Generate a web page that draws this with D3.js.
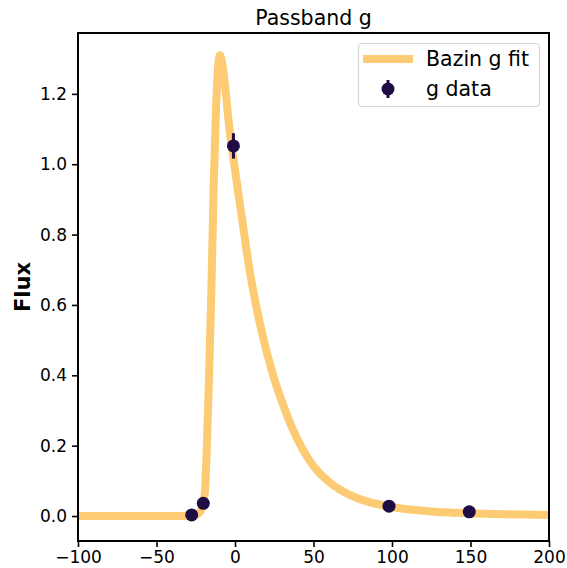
<!DOCTYPE html>
<html>
<head>
<meta charset="utf-8">
<script src="https://cdn.jsdelivr.net/npm/d3@7"></script>
<style>
	body { margin: 0; background: #fff; }
	text { font-family: "DejaVu Sans", sans-serif; }
</style>
</head>
<body>
<script>
// fit curve
var fitTime = [-100, -60, -30, -24, -21.5, -20, -19, -18, -16.5, -15, -13.5, -12, -11, -9.6, -8.5, -7.4, -6, -4.5, -3, -1.5, 0, 2, 4.5, 7.2, 10, 12.5, 16, 20, 25, 29.5, 36, 43, 50, 59, 66, 74, 85, 98, 110, 125, 149, 175, 200]
var fitFlux = [0, 0, 0, 0.005, 0.018, 0.04, 0.08, 0.19, 0.4, 0.65, 0.95, 1.17, 1.26, 1.31, 1.295, 1.265, 1.21, 1.14, 1.08, 1.03, 0.985, 0.92, 0.845, 0.76, 0.68, 0.62, 0.545, 0.47, 0.39, 0.33, 0.255, 0.19, 0.142, 0.1, 0.077, 0.058, 0.04, 0.027, 0.019, 0.013, 0.008, 0.005, 0.003]

// observations
var obsTime = [-27.6, -20.2, -1.0, 98.1, 149.2]
var obsFlux = [0.003, 0.036, 1.052, 0.028, 0.012]
var obsErr = [0.003, 0.004, 0.036, 0.004, 0.003]

var xTicks = [-100, -50, 0, 50, 100, 150, 200]
var yTicks = [0, 0.2, 0.4, 0.6, 0.8, 1.0, 1.2]

var fitColor = "#fccb74"
var dotColor = "#1e0c45"

function main() {
	var w = 567
	var h = 568
	var left = 78, right = 549, top = 33, bottom = 541

	var xScale = d3.scaleLinear().domain([-100, 200]).range([left, right])
	var yScale = d3.scaleLinear().domain([-0.071, 1.373]).range([bottom, top])

	var svg = d3.select("body").append("svg")
		.attr("width", w)
		.attr("height", h)

	// fit line
	var fit = fitTime.map((t, i) => [t, fitFlux[i]])
	var line = d3.line()
		.x((d) => xScale(d[0]))
		.y((d) => yScale(d[1]))
		.curve(d3.curveMonotoneX)

	svg.append("path")
		.datum(fit)
		.attr("d", line)
		.attr("fill", "none")
		.attr("stroke", fitColor)
		.attr("stroke-width", 8)
		.attr("stroke-linejoin", "round")

	// error bars + dots
	var obs = obsTime.map((t, i) => ({ t: t, f: obsFlux[i], e: obsErr[i] }))
	svg.append("g").selectAll("line")
		.data(obs)
		.enter().append("line")
		.attr("x1", (d) => xScale(d.t))
		.attr("x2", (d) => xScale(d.t))
		.attr("y1", (d) => yScale(d.f - d.e))
		.attr("y2", (d) => yScale(d.f + d.e))
		.attr("stroke", dotColor)
		.attr("stroke-width", 3)

	svg.append("g").selectAll("circle")
		.data(obs)
		.enter().append("circle")
		.attr("cx", (d) => xScale(d.t))
		.attr("cy", (d) => yScale(d.f))
		.attr("r", 6.5)
		.attr("fill", dotColor)

	// axes
	var xAxis = d3.axisBottom(xScale).tickValues(xTicks).tickSize(6).tickPadding(4).tickFormat(d3.format("d"))
	var yAxis = d3.axisLeft(yScale).tickValues(yTicks).tickSize(6).tickPadding(5).tickFormat(d3.format(".1f"))

	var gx = svg.append("g")
		.attr("transform", "translate(0," + bottom + ")")
		.call(xAxis)
	var gy = svg.append("g")
		.attr("transform", "translate(" + left + ",0)")
		.call(yAxis)

	;[gx, gy].forEach((g) => {
		g.select(".domain").remove()
		g.selectAll(".tick line").attr("stroke", "#000").attr("stroke-width", 1.6)
		g.selectAll(".tick text")
			.attr("fill", "#000")
			.style("font-size", "17px")
			.style("font-family", "DejaVu Sans")
	})

	// frame
	svg.append("rect")
		.attr("x", left)
		.attr("y", top)
		.attr("width", right - left)
		.attr("height", bottom - top)
		.attr("fill", "none")
		.attr("stroke", "#000")
		.attr("stroke-width", 2)

	svg.append("text")
		.attr("x", (left + right) / 2)
		.attr("y", 25)
		.attr("text-anchor", "middle")
		.style("font-size", "20.5px")
		.text("Passband g")

	svg.append("text")
		.attr("transform", "translate(30," + ((top + bottom) / 2) + ") rotate(-90)")
		.attr("text-anchor", "middle")
		.style("font-size", "21px")
		.style("font-weight", "bold")
		.text("Flux")

	// legend
	var legend = svg.append("g")
	legend.append("rect")
		.attr("x", 358.5)
		.attr("y", 43.5)
		.attr("width", 181)
		.attr("height", 63)
		.attr("rx", 4)
		.attr("fill", "#fff")
		.attr("fill-opacity", 0.8)
		.attr("stroke", "#d6d6d6")
		.attr("stroke-width", 1.2)

	legend.append("line")
		.attr("x1", 363)
		.attr("x2", 413)
		.attr("y1", 59)
		.attr("y2", 59)
		.attr("stroke", fitColor)
		.attr("stroke-width", 8)

	legend.append("line")
		.attr("x1", 388)
		.attr("x2", 388)
		.attr("y1", 80)
		.attr("y2", 98)
		.attr("stroke", dotColor)
		.attr("stroke-width", 3)
	legend.append("circle")
		.attr("cx", 388)
		.attr("cy", 89)
		.attr("r", 6.5)
		.attr("fill", dotColor)

	legend.selectAll("text.lab")
		.data(["Bazin g fit", "g data"])
		.enter().append("text")
		.attr("class", "lab")
		.attr("x", 426)
		.attr("y", (d, i) => 66 + i * 30)
		.style("font-size", "20.5px")
		.text((d) => d)
}

main()
</script>
</body>
</html>
